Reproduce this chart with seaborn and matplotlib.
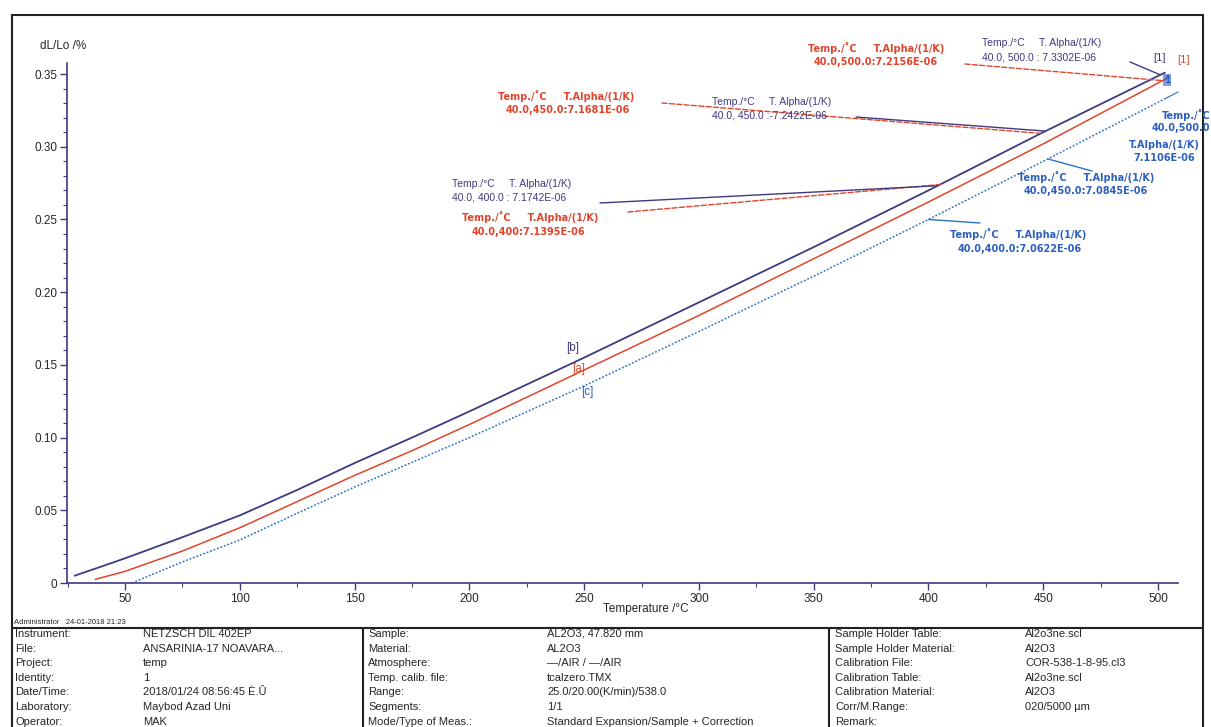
import numpy as np
import matplotlib
matplotlib.use("Agg")
import matplotlib.pyplot as plt
from matplotlib.lines import Line2D
import seaborn as sns

# dilatometer curves, dL/Lo in % vs temperature in C
temp_b = [28, 40, 50, 75, 100, 125, 150, 175, 200, 250, 300, 350, 400, 450, 503]
dl_b = [0.005, 0.0115, 0.017, 0.0315, 0.0465, 0.064, 0.0825, 0.100, 0.118, 0.155, 0.193, 0.231, 0.270, 0.310, 0.351]
temp_a = [37, 50, 75, 100, 125, 150, 175, 200, 250, 300, 350, 400, 450, 505]
dl_a = [0.0025, 0.008, 0.022, 0.038, 0.056, 0.074, 0.091, 0.109, 0.1465, 0.184, 0.223, 0.262, 0.302, 0.348]
temp_c = [53, 75, 100, 125, 150, 175, 200, 250, 300, 350, 400, 450, 503]
dl_c = [0.0, 0.0145, 0.0296, 0.048, 0.066, 0.083, 0.100, 0.1355, 0.173, 0.211, 0.250, 0.290, 0.333]

x_ticks = [50, 100, 150, 200, 250, 300, 350, 400, 450, 500]
y_ticks = [0, 0.05, 0.10, 0.15, 0.20, 0.25, 0.30, 0.35]
y_ticklabels = ["0", "0.05", "0.10", "0.15", "0.20", "0.25", "0.30", "0.35"]

col1_labels = ["Instrument:", "File:", "Project:", "Identity:", "Date/Time:", "Laboratory:", "Operator:"]
col1_values = ["NETZSCH DIL 402EP", "ANSARINIA-17 NOAVARA...", "temp", "1", "2018/01/24 08:56:45 È.Û", "Maybod Azad Uni", "MAK"]
col2_labels = ["Sample:", "Material:", "Atmosphere:", "Temp. calib. file:", "Range:", "Segments:", "Mode/Type of Meas.:"]
col2_values = ["AL2O3, 47.820 mm", "AL2O3", "—/AIR / —/AIR", "tcalzero.TMX", "25.0/20.00(K/min)/538.0", "1/1", "Standard Expansion/Sample + Correction"]
col3_labels = ["Sample Holder Table:", "Sample Holder Material:", "Calibration File:", "Calibration Table:", "Calibration Material:", "Corr/M.Range:", "Remark:"]
col3_values = ["Al2o3ne.scl", "Al2O3", "COR-538-1-8-95.cl3", "Al2o3ne.scl", "Al2O3", "020/5000 µm", ""]

sns.set_style("white")
plt.rcParams['font.family'] = ['Liberation Sans', 'DejaVu Sans']

red_c = "#e0452c"
navy_c = "#3f3a80"
blue_c = "#2a72c8"
bluetxt = "#2d5fbf"

W, H = 1211, 727
fig = plt.figure(figsize=(12.11, 7.27), dpi=100)

def fx(px):
    return px / W

def fy(py):
    return 1 - py / H

ax = fig.add_axes([fx(67), fy(583), fx(1178) - fx(67), fy(63) - fy(583)])

sns.lineplot(x=temp_b, y=dl_b, ax=ax, color=navy_c, lw=1.3)
sns.lineplot(x=temp_a, y=dl_a, ax=ax, color=red_c, lw=1.1)
sns.lineplot(x=temp_c, y=dl_c, ax=ax, color=blue_c, lw=1.1, linestyle=(0, (1.2, 1.2)))

ax.set_xlim(24.7, 508.7)
ax.set_ylim(0, 0.3576)
ax.set_xticks(x_ticks)
ax.set_xticks(np.arange(25, 510, 25), minor=True)
ax.set_yticks(y_ticks)
ax.set_yticklabels(y_ticklabels)
ax.set_yticks(np.arange(0, 0.355, 0.01), minor=True)
ax.tick_params(axis='both', which='major', direction='out', length=5, width=1, color=navy_c, labelsize=8.5, pad=2)
ax.tick_params(axis='both', which='minor', direction='out', length=3, width=0.8, color=navy_c)
ax.tick_params(axis='x', bottom=True, which='both')
ax.tick_params(axis='y', left=True, which='both')
for s in ['top', 'right']:
    ax.spines[s].set_visible(False)
for s in ['left', 'bottom']:
    ax.spines[s].set_color(navy_c)
    ax.spines[s].set_linewidth(1.2)
ax.set_xlabel("")
ax.set_ylabel("")
fig.text(fx(646), fy(609), "Temperature /°C", fontsize=8.5, ha='center', va='center')
fig.text(fx(40), fy(46), "dL/Lo /%", fontsize=8.5, ha='left', va='center')

# outer frame and info table
frame = dict(color="#222222", lw=1.5)
for xs, ys in [((12, 1203), (15, 15)), ((12, 12), (15, 727)), ((1203, 1203), (15, 727)),
               ((12, 1203), (628, 628)), ((363, 363), (628, 727)), ((829, 829), (628, 727))]:
    fig.add_artist(Line2D([fx(xs[0]), fx(xs[1])], [fy(ys[0]), fy(ys[1])], transform=fig.transFigure, **frame))

fig.text(fx(14), fy(622), "Administrator   24-01-2018 21:23", fontsize=5.5, ha='left', va='center')
for i in range(7):
    yy = fy(634 + i * 14.6)
    fig.text(fx(15), yy, col1_labels[i], fontsize=8, va='center')
    fig.text(fx(143), yy, col1_values[i], fontsize=8, va='center')
    fig.text(fx(368), yy, col2_labels[i], fontsize=8, va='center')
    fig.text(fx(547), yy, col2_values[i], fontsize=8, va='center')
    fig.text(fx(835), yy, col3_labels[i], fontsize=8, va='center')
    fig.text(fx(1025), yy, col3_values[i], fontsize=8, va='center')

# annotations
def lead(T, temps, vals, px, py, color, ls='-', lw=1.0):
    ax.annotate("", xy=(T, np.interp(T, temps, vals)), xycoords='data',
                xytext=(fx(px), fy(py)), textcoords='figure fraction',
                arrowprops=dict(arrowstyle='-', color=color, lw=lw, linestyle=ls, shrinkA=0, shrinkB=0))

bold = dict(fontsize=7, fontweight='bold', family='DejaVu Sans', va='center')
plain = dict(fontsize=7.5, va='center')

# red (a)
fig.text(fx(808), fy(48), "Temp./˚C     T.Alpha/(1/K)", color=red_c, **bold)
fig.text(fx(814), fy(62), "40.0,500.0:7.2156E-06", color=red_c, **bold)
lead(502, temp_a, dl_a, 965, 64, red_c, '--')
fig.text(fx(498), fy(96), "Temp./˚C     T.Alpha/(1/K)", color=red_c, **bold)
fig.text(fx(506), fy(110), "40.0,450.0:7.1681E-06", color=red_c, **bold)
lead(449, temp_b, dl_b, 662, 103, red_c, '--')
fig.text(fx(462), fy(217), "Temp./˚C     T.Alpha/(1/K)", color=red_c, **bold)
fig.text(fx(472), fy(232), "40.0,400:7.1395E-06", color=red_c, **bold)
lead(405, temp_b, dl_b, 628, 212, red_c, '--')

# navy (b)
fig.text(fx(982), fy(43), "Temp./°C     T. Alpha/(1/K)", color=navy_c, **plain)
fig.text(fx(982), fy(57), "40.0, 500.0 : 7.3302E-06", color=navy_c, **plain)
lead(501, temp_b, dl_b, 1130, 62, navy_c)
fig.text(fx(712), fy(102), "Temp./°C     T. Alpha/(1/K)", color=navy_c, **plain)
fig.text(fx(712), fy(115), "40.0, 450.0 :-7.2422E-06", color=navy_c, **plain)
lead(451, temp_b, dl_b, 856, 117, navy_c)
fig.text(fx(452), fy(184), "Temp./°C     T. Alpha/(1/K)", color=navy_c, **plain)
fig.text(fx(452), fy(198), "40.0, 400.0 : 7.1742E-06", color=navy_c, **plain)
lead(404, temp_b, dl_b, 600, 203, navy_c)

# blue (c)
fig.text(fx(1210), fy(115), "Temp./˚C", color=bluetxt, ha='right', **bold)
fig.text(fx(1210), fy(128), "40.0,500.0", color=bluetxt, ha='right', **bold)
fig.text(fx(1200), fy(145), "T.Alpha/(1/K)", color=bluetxt, ha='right', **bold)
fig.text(fx(1195), fy(158), "7.1106E-06", color=bluetxt, ha='right', **bold)
lead(503, temp_c, dl_c, 1178, 92, blue_c, lw=0.8)
fig.text(fx(1018), fy(177), "Temp./˚C     T.Alpha/(1/K)", color=bluetxt, **bold)
fig.text(fx(1024), fy(191), "40.0,450.0:7.0845E-06", color=bluetxt, **bold)
lead(452, temp_c, dl_c, 1092, 171, blue_c)
fig.text(fx(950), fy(234), "Temp./˚C     T.Alpha/(1/K)", color=bluetxt, **bold)
fig.text(fx(958), fy(249), "40.0,400.0:7.0622E-06", color=bluetxt, **bold)
lead(400, temp_c, dl_c, 980, 223, blue_c)

# curve labels
fig.text(fx(573), fy(348), "[b]", color=navy_c, fontsize=8.5, ha='center', va='center')
fig.text(fx(579), fy(369), "[a]", color=red_c, fontsize=8.5, ha='center', va='center')
fig.text(fx(587), fy(392), "[c]", color=bluetxt, fontsize=8.5, ha='center', va='center')
fig.text(fx(1160), fy(58), "[1]", color=navy_c, fontsize=8, ha='center', va='center')
fig.text(fx(1183), fy(60), "[1]", color=red_c, fontsize=8, ha='center', va='center')
fig.text(fx(1167), fy(80), "1", color=bluetxt, fontsize=8, fontweight='bold', ha='center', va='center',
         bbox=dict(boxstyle='square,pad=0.05', fc=bluetxt, ec='none', alpha=0.6))

fig.savefig("out.png", dpi=100)
